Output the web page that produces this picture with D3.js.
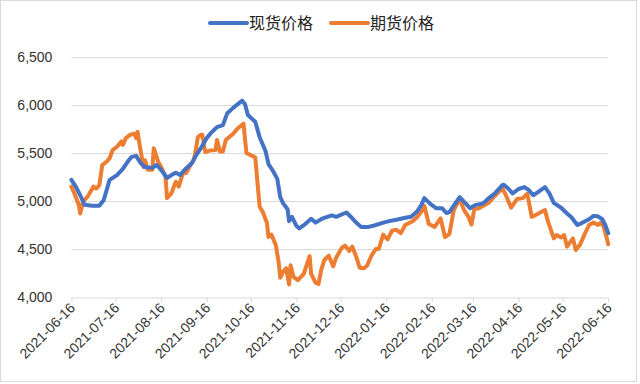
<!DOCTYPE html>
<html><head><meta charset="utf-8">
<script src="https://cdn.jsdelivr.net/npm/d3@7/dist/d3.min.js"></script>
<style>body{margin:0;background:#fff}</style>
</head><body>
<svg id="chart" width="640" height="384"></svg>
<script>
const seriesNames = ["现货价格", "期货价格"];
const seriesColors = ["#4472C4", "#ED7D31"];

const spotDates = ["2021-06-16","2021-06-19","2021-06-22","2021-06-25","2021-06-30","2021-07-05","2021-07-08","2021-07-12","2021-07-17","2021-07-21","2021-07-25","2021-07-27","2021-07-30","2021-08-02","2021-08-05","2021-08-10","2021-08-13","2021-08-16","2021-08-20","2021-08-23","2021-08-26","2021-08-29","2021-09-01","2021-09-06","2021-09-09","2021-09-13","2021-09-16","2021-09-19","2021-09-23","2021-09-27","2021-09-30","2021-10-04","2021-10-10","2021-10-12","2021-10-14","2021-10-19","2021-10-22","2021-10-26","2021-10-28","2021-10-31","2021-11-03","2021-11-05","2021-11-07","2021-11-10","2021-11-11","2021-11-13","2021-11-16","2021-11-18","2021-11-22","2021-11-26","2021-11-29","2021-12-04","2021-12-10","2021-12-13","2021-12-20","2021-12-24","2021-12-27","2021-12-30","2022-01-04","2022-01-08","2022-01-13","2022-01-18","2022-01-23","2022-01-29","2022-02-02","2022-02-06","2022-02-09","2022-02-11","2022-02-15","2022-02-19","2022-02-23","2022-02-26","2022-02-28","2022-03-04","2022-03-07","2022-03-11","2022-03-14","2022-03-18","2022-03-23","2022-03-26","2022-03-31","2022-04-05","2022-04-06","2022-04-09","2022-04-12","2022-04-16","2022-04-20","2022-04-23","2022-04-26","2022-04-29","2022-05-04","2022-05-07","2022-05-10","2022-05-15","2022-05-19","2022-05-22","2022-05-26","2022-05-29","2022-06-03","2022-06-06","2022-06-09","2022-06-12","2022-06-14","2022-06-16"];
const spotValues = [5220,5150,5060,4960,4950,4950,5010,5220,5270,5335,5425,5460,5470,5395,5355,5345,5375,5325,5240,5270,5295,5270,5325,5395,5480,5575,5655,5710,5770,5790,5915,5970,6045,6010,5895,5825,5665,5520,5385,5315,5230,5040,4975,4915,4790,4835,4740,4715,4760,4815,4775,4820,4850,4835,4880,4820,4770,4730,4730,4745,4770,4790,4805,4825,4835,4890,4960,5030,4970,4925,4925,4875,4885,4975,5040,4975,4925,4960,4975,5020,5080,5165,5170,5130,5080,5125,5145,5115,5060,5090,5145,5080,4980,4930,4870,4830,4750,4770,4810,4845,4840,4810,4750,4665];

const futDates = ["2021-06-16","2021-06-18","2021-06-21","2021-06-22","2021-06-24","2021-06-27","2021-07-01","2021-07-03","2021-07-05","2021-07-07","2021-07-10","2021-07-12","2021-07-14","2021-07-17","2021-07-20","2021-07-21","2021-07-23","2021-07-26","2021-07-29","2021-07-30","2021-07-31","2021-08-02","2021-08-04","2021-08-05","2021-08-07","2021-08-10","2021-08-11","2021-08-14","2021-08-16","2021-08-19","2021-08-20","2021-08-23","2021-08-26","2021-08-28","2021-08-31","2021-09-02","2021-09-05","2021-09-07","2021-09-08","2021-09-10","2021-09-12","2021-09-13","2021-09-15","2021-09-18","2021-09-22","2021-09-23","2021-09-25","2021-09-27","2021-09-29","2021-10-04","2021-10-07","2021-10-11","2021-10-13","2021-10-17","2021-10-19","2021-10-22","2021-10-24","2021-10-27","2021-10-28","2021-10-30","2021-11-02","2021-11-04","2021-11-05","2021-11-07","2021-11-09","2021-11-11","2021-11-12","2021-11-14","2021-11-17","2021-11-21","2021-11-23","2021-11-25","2021-11-26","2021-11-29","2021-12-01","2021-12-03","2021-12-05","2021-12-08","2021-12-11","2021-12-13","2021-12-17","2021-12-19","2021-12-22","2021-12-24","2021-12-27","2021-12-29","2022-01-01","2022-01-03","2022-01-06","2022-01-09","2022-01-11","2022-01-14","2022-01-16","2022-01-17","2022-01-20","2022-01-23","2022-01-26","2022-01-29","2022-02-03","2022-02-06","2022-02-10","2022-02-11","2022-02-14","2022-02-18","2022-02-22","2022-02-25","2022-02-28","2022-03-03","2022-03-07","2022-03-10","2022-03-13","2022-03-15","2022-03-17","2022-03-20","2022-03-23","2022-03-27","2022-03-30","2022-04-05","2022-04-07","2022-04-11","2022-04-15","2022-04-19","2022-04-22","2022-04-25","2022-04-29","2022-05-02","2022-05-04","2022-05-06","2022-05-10","2022-05-12","2022-05-15","2022-05-17","2022-05-19","2022-05-23","2022-05-25","2022-05-28","2022-05-31","2022-06-03","2022-06-06","2022-06-09","2022-06-11","2022-06-13","2022-06-15","2022-06-16"];
const futValues = [5150,5080,4960,4870,4995,5045,5150,5130,5165,5375,5410,5445,5530,5565,5620,5585,5655,5690,5700,5655,5720,5530,5355,5425,5325,5325,5550,5410,5355,5255,5030,5080,5200,5150,5300,5290,5375,5425,5480,5665,5690,5690,5510,5525,5530,5635,5515,5515,5635,5700,5755,5805,5500,5470,5455,4940,4890,4770,4625,4650,4540,4355,4200,4265,4300,4130,4330,4210,4175,4240,4335,4425,4240,4150,4135,4290,4385,4430,4320,4410,4515,4535,4480,4525,4405,4305,4300,4325,4430,4500,4500,4650,4615,4600,4690,4700,4665,4750,4790,4830,4910,4950,4760,4730,4820,4625,4655,4905,5020,4905,4835,4755,4915,4925,4950,4985,5040,5130,5075,4930,5020,5030,5075,4835,4865,4890,4905,4790,4610,4645,4620,4645,4525,4610,4490,4550,4655,4750,4775,4750,4775,4730,4615,4550];

const yTicks = [4000, 4500, 5000, 5500, 6000, 6500];
const xTickLabels = ["2021-06-16","2021-07-16","2021-08-16","2021-09-16","2021-10-16","2021-11-16","2021-12-16","2022-01-16","2022-02-16","2022-03-16","2022-04-16","2022-05-16","2022-06-16"];

const parse = d3.utcParse("%Y-%m-%d");
const fmt = d3.utcFormat("%Y-%m-%d");
const svg = d3.select("#chart");

// frame
svg.append("rect").attr("x", 0.5).attr("y", 0.5).attr("width", 636).attr("height", 381)
  .attr("fill", "#fff").attr("stroke", "#d9d9d9");

const x = d3.scaleUtc().domain([parse(xTickLabels[0]), parse(xTickLabels[xTickLabels.length - 1])]).range([71.4, 608.2]);
const y = d3.scaleLinear().domain([4000, 6500]).range([297, 57]);

// gridlines
svg.append("g").selectAll("line").data(yTicks.slice(1)).join("line")
  .attr("x1", 71.4).attr("x2", 608.2)
  .attr("y1", d => Math.round(y(d)) + 0.5).attr("y2", d => Math.round(y(d)) + 0.5)
  .attr("stroke", "#d9d9d9").attr("stroke-width", 1);

// y axis labels
const yAxis = d3.axisLeft(y).tickValues(yTicks).tickFormat(d3.format(",")).tickSize(0).tickPadding(19);
const gy = svg.append("g").attr("transform", "translate(71.4,0)").call(yAxis);
gy.select(".domain").remove();
gy.selectAll("text").attr("font-family", "'Liberation Sans', Arial, sans-serif").attr("font-size", 14).attr("fill", "#333");

// x axis
const xAxis = d3.axisBottom(x).tickValues(xTickLabels.map(parse)).tickFormat(fmt).tickSize(5).tickSizeOuter(0);
const gx = svg.append("g").attr("transform", "translate(0,297.5)").call(xAxis);
gx.select(".domain").attr("stroke", "#d9d9d9");
gx.selectAll(".tick line").attr("stroke", "#d9d9d9");
gx.selectAll("text")
  .attr("font-family", "'Liberation Sans', Arial, sans-serif").attr("font-size", 14).attr("fill", "#333")
  .attr("text-anchor", "end").attr("transform", "rotate(-45)")
  .attr("x", -5).attr("y", 6).attr("dy", "0.35em");

// lines
const line = d3.line().x(d => x(d[0])).y(d => y(d[1])).curve(d3.curveLinear);
const series = [
  spotDates.map((d, i) => [parse(d), spotValues[i]]),
  futDates.map((d, i) => [parse(d), futValues[i]])
];
[1, 0].forEach(k => {
  svg.append("path").datum(series[k])
    .attr("d", line).attr("fill", "none")
    .attr("stroke", seriesColors[k]).attr("stroke-width", 4)
    .attr("stroke-linejoin", "round").attr("stroke-linecap", "round");
});

// legend
const legendX = [210, 331];
const lg = svg.append("g");
seriesNames.forEach((name, i) => {
  lg.append("line").attr("x1", legendX[i]).attr("x2", legendX[i] + 37)
    .attr("y1", 23).attr("y2", 23).attr("stroke", seriesColors[i]).attr("stroke-width", 4)
    .attr("stroke-linecap", "round");
  lg.append("text").attr("x", legendX[i] + 39).attr("y", 23).attr("dy", "0.35em")
    .attr("font-family", "'Noto Sans CJK SC', sans-serif").attr("font-size", 16).attr("fill", "#222")
    .text(name);
});
</script>
</body></html>
